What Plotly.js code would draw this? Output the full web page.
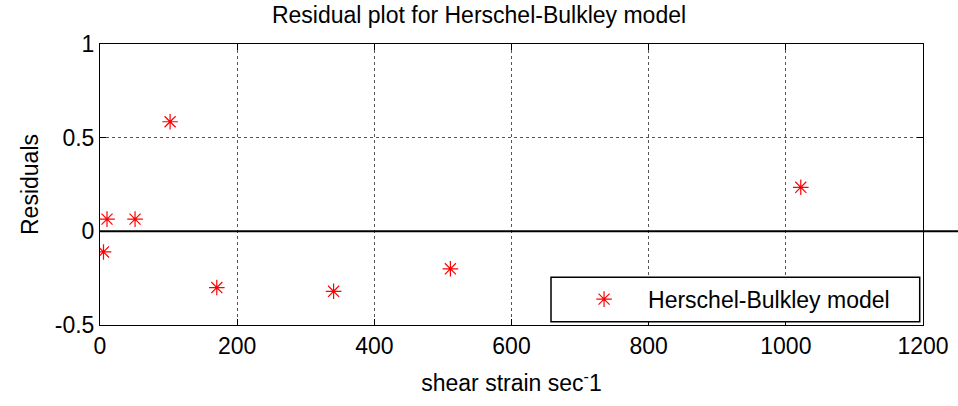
<!DOCTYPE html>
<html>
<head>
<meta charset="utf-8">
<script src="https://cdn.plot.ly/plotly-3.0.1.min.js"></script>
<style>html,body{margin:0;padding:0;background:#fff;}#chart{width:958px;height:406px;}</style>
</head>
<body>
<div id="chart"></div>
<script>
const shearRate = [5.11, 10.22, 51.1, 102.2, 170.3, 340.6, 510.9, 1021.8];
const residuals = [-0.11, 0.065, 0.065, 0.585, -0.30, -0.32, -0.20, 0.235];
const seriesName = 'Herschel-Bulkley model';
const xTicks = [0, 200, 400, 600, 800, 1000, 1200];
const yTicks = [-0.5, 0, 0.5, 1];
const yTickText = ['-0.5', '0', '0.5', '1'];

const font = {family: 'Liberation Sans, Arial, sans-serif', color: '#000'};
const fs = 23;

const trace = {
  x: shearRate, y: residuals, name: seriesName,
  type: 'scatter', mode: 'markers',
  marker: {symbol: 'asterisk-open', size: 13, color: '#ff0000', line: {color: '#ff0000', width: 1.2}},
  showlegend: true
};

const layout = {
  width: 958, height: 406,
  margin: {l: 100, r: 35, t: 44, b: 81},
  paper_bgcolor: '#fff', plot_bgcolor: '#fff',
  font: Object.assign({size: fs}, font),
  title: {text: 'Residual plot for Herschel-Bulkley model', font: Object.assign({size: fs}, font), x: 0.5, xanchor: 'center', y: 0.963, yanchor: 'middle'},
  xaxis: {
    range: [0, 1200], tickvals: xTicks, ticktext: xTicks.map(String),
    showgrid: true, gridcolor: '#555', griddash: 'dot', gridwidth: 1,
    zeroline: false, showline: true, linecolor: '#000', linewidth: 1, mirror: 'ticks',
    ticks: 'inside', ticklen: 6, tickcolor: '#000',
    tickfont: Object.assign({size: fs}, font),
    title: {text: 'shear strain sec<sup>-</sup>1', font: Object.assign({size: fs}, font), standoff: 17}
  },
  yaxis: {
    range: [-0.5, 1], tickvals: yTicks, ticktext: yTickText,
    showgrid: true, gridcolor: '#555', griddash: 'dot', gridwidth: 1,
    zeroline: false, showline: true, linecolor: '#000', linewidth: 1, mirror: 'ticks',
    ticks: 'inside', ticklen: 6, tickcolor: '#000',
    tickfont: Object.assign({size: fs}, font),
    title: {text: 'Residuals', font: Object.assign({size: fs}, font), standoff: 9}
  },
  shapes: [
    {type: 'line', xref: 'paper', yref: 'paper', x0: 0, x1: 1.05, y0: 1/3, y1: 1/3, line: {color: '#000', width: 2}},
    {type: 'rect', xref: 'paper', yref: 'paper', x0: 0.548, x1: 0.996, y0: 0.012, y1: 0.17, line: {color: '#000', width: 1.5}, fillcolor: '#fff', layer: 'above'}
  ],
  legend: {
    x: 0.559, xanchor: 'left', y: 0.092, yanchor: 'middle',
    bgcolor: 'rgba(0,0,0,0)', borderwidth: 0,
    itemwidth: 78,
    font: Object.assign({size: fs}, font)
  }
};

Plotly.newPlot('chart', [trace], layout, {displayModeBar: false, staticPlot: true});
</script>
</body>
</html>
